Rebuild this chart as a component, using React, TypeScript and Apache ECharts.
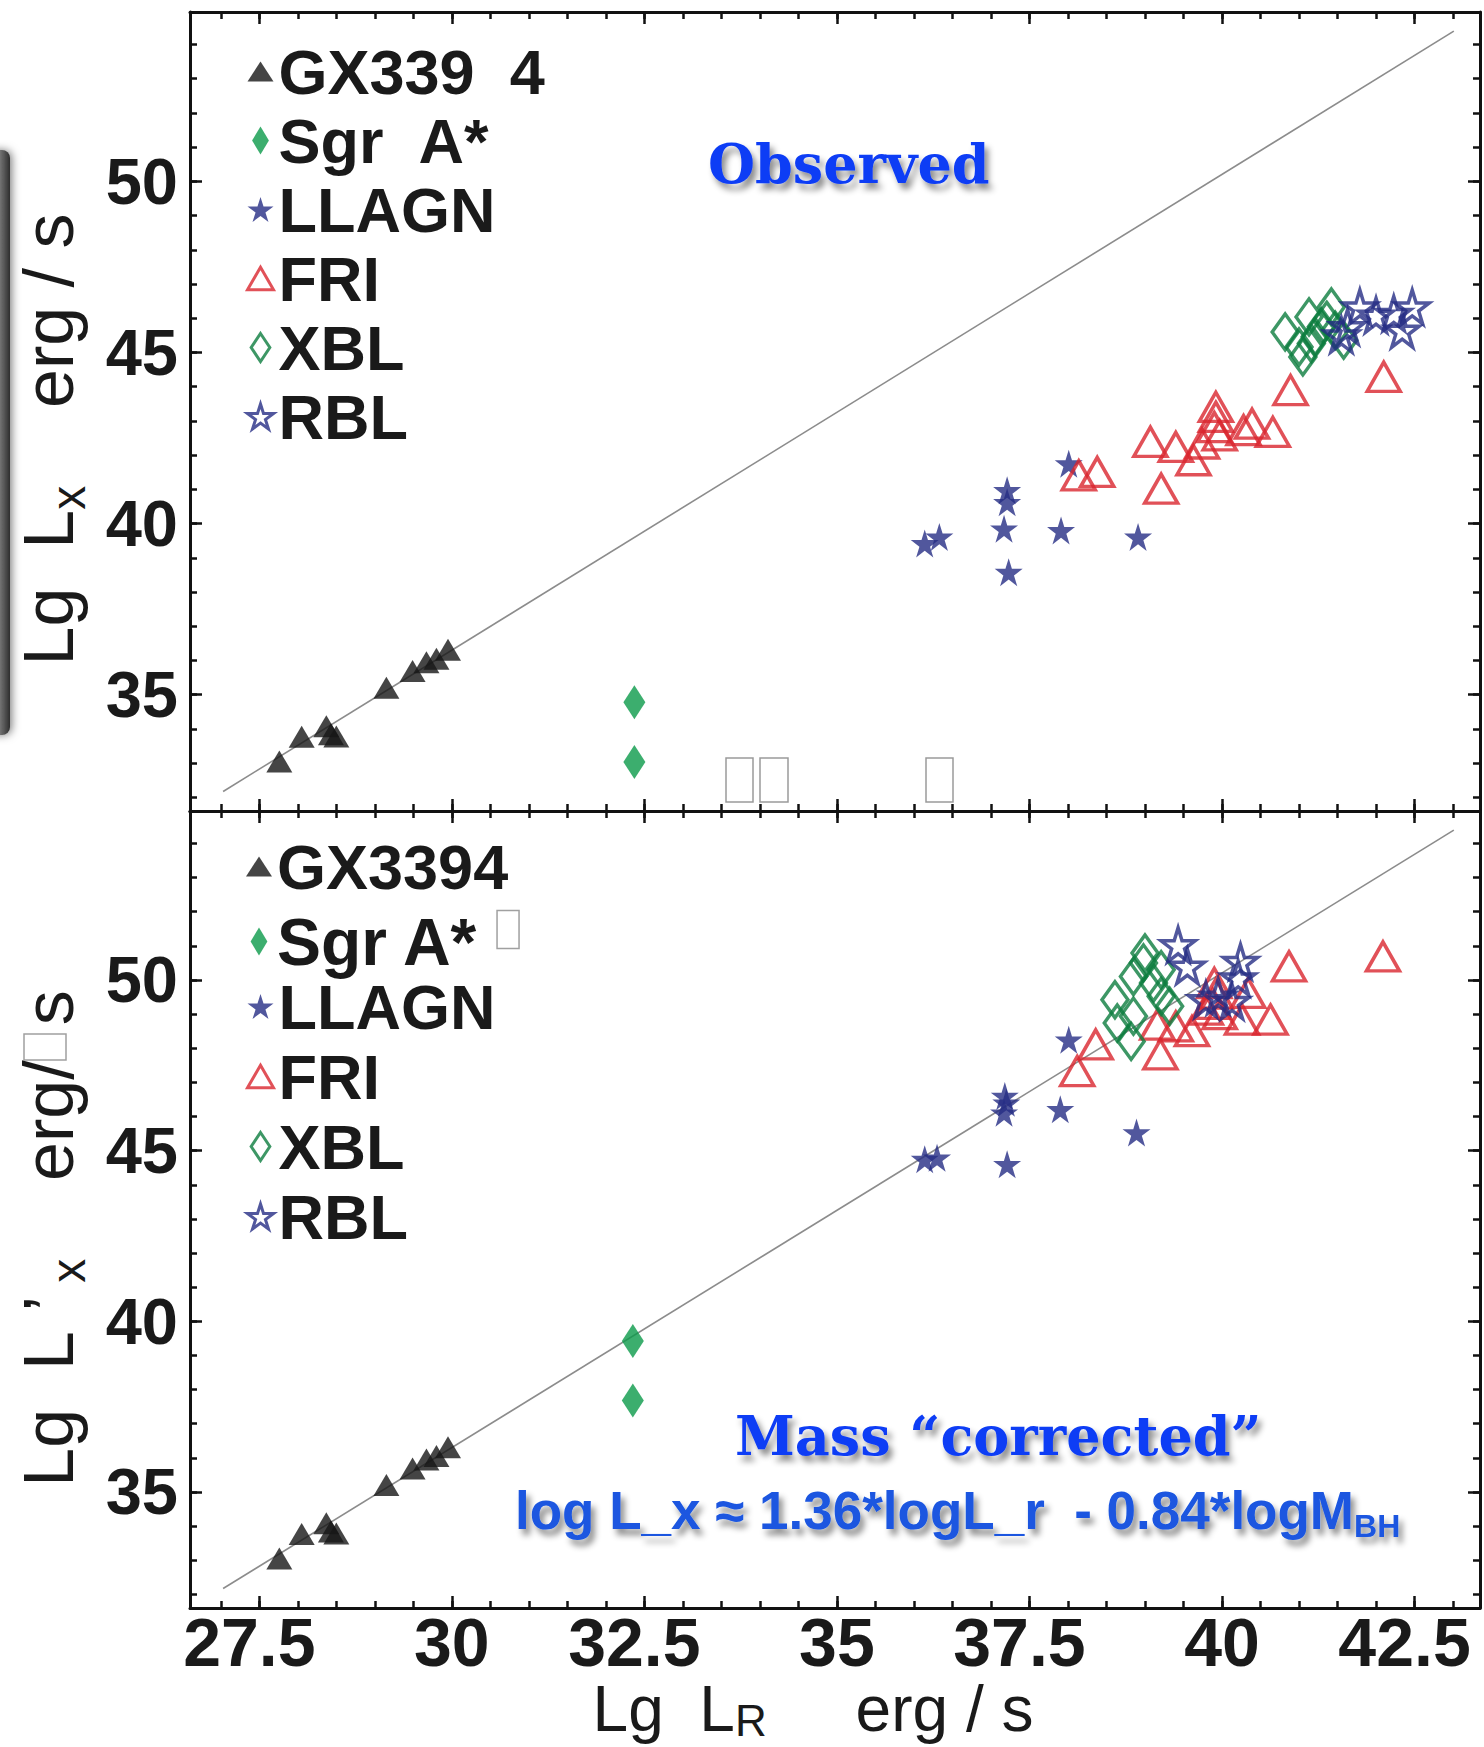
import React, { useEffect, useRef } from "react";
import * as echarts from "echarts";

const FONT = "'Liberation Sans', Arial, Helvetica, sans-serif";
const SERIF = "'DejaVu Serif', 'Liberation Serif', serif";

// ---- axis ranges & ticks ----
const X_MIN = 26.6;
const X_MAX = 43.35;
const Y_MIN = 31.6;
const Y_MAX = 54.95;

const xMajorTicks = [27.5, 30, 32.5, 35, 37.5, 40, 42.5];
const xMinorTicks = [27, 27.5, 28, 28.5, 29, 29.5, 30, 30.5, 31, 31.5, 32, 32.5, 33, 33.5, 34, 34.5, 35, 35.5, 36, 36.5, 37, 37.5, 38, 38.5, 39, 39.5, 40, 40.5, 41, 41.5, 42, 42.5, 43];
const yMajorTicks = [35, 40, 45, 50];
const yMinorTicks = [32, 33, 34, 35, 36, 37, 38, 39, 40, 41, 42, 43, 44, 45, 46, 47, 48, 49, 50, 51, 52, 53, 54];

// ---- reference relation line ----
const relationX = [27.03, 43.01];
const relationY = [32.17, 54.39];

// ---- legend names ----
const namesTop = ["GX339\u00a0\u00a04", "Sgr\u00a0\u00a0A*", "LLAGN", "FRI", "XBL", "RBL"];
const namesBottom = ["GX3394", "Sgr A*", "LLAGN", "FRI", "XBL", "RBL"];

// ---- Observed panel ----
const gxObsX = [27.76, 28.05, 28.37, 28.43, 28.5, 29.15, 29.49, 29.67, 29.8, 29.95];
const gxObsY = [33.05, 33.77, 34.08, 33.84, 33.78, 35.2, 35.69, 35.95, 36.05, 36.31];
const sgrObsX = [32.37, 32.37];
const sgrObsY = [34.78, 33.03];
const llagnObsX = [36.14, 36.33, 37.21, 37.21, 37.17, 37.23, 37.91, 38.91, 38.01];
const llagnObsY = [39.42, 39.61, 40.97, 40.62, 39.85, 38.58, 39.8, 39.61, 41.75];
const friObsX = [38.14, 38.38, 39.21, 39.07, 39.4, 39.63, 39.74, 39.92, 39.92, 39.9, 39.97, 40.28, 40.39, 40.66, 40.89, 42.1];
const friObsY = [41.41, 41.51, 41.02, 42.39, 42.24, 41.85, 42.34, 43.41, 43.12, 42.82, 42.58, 42.73, 42.92, 42.68, 43.9, 44.29];
const xblObsX = [40.82, 41.05, 41.13, 41.21, 41.29, 41.42, 41.47, 41.58, 41.0, 41.16, 41.36];
const xblObsY = [45.6, 44.87, 46.04, 45.46, 45.75, 46.33, 45.65, 45.36, 45.16, 45.26, 45.94];
const rblObsX = [41.63, 41.79, 42.0, 42.23, 42.47, 42.34, 41.55];
const rblObsY = [45.75, 46.33, 46.09, 46.14, 46.33, 45.65, 45.51];

// ---- Mass corrected panel ----
const gxCorX = [27.76, 28.05, 28.37, 28.43, 28.5, 29.15, 29.49, 29.67, 29.8, 29.95];
const gxCorY = [33.05, 33.77, 34.08, 33.84, 33.78, 35.2, 35.69, 35.95, 36.05, 36.31];
const sgrCorX = [32.35, 32.35];
const sgrCorY = [39.42, 37.68];
const llagnCorX = [36.14, 36.3, 37.18, 37.17, 37.21, 37.9, 38.89, 38.01, 37.2];
const llagnCorY = [44.75, 44.79, 46.6, 46.11, 44.6, 46.21, 45.53, 48.25, 46.4];
const friCorX = [38.12, 38.36, 39.16, 39.2, 39.4, 39.61, 39.79, 39.9, 39.92, 39.88, 39.97, 40.26, 40.34, 40.63, 40.87, 42.09];
const friCorY = [47.33, 48.11, 48.69, 47.82, 48.64, 48.5, 49.13, 49.91, 49.6, 49.3, 49.0, 48.84, 49.62, 48.84, 50.4, 50.69];
const xblCorX = [38.61, 38.64, 38.85, 38.82, 38.85, 38.98, 39.0, 39.11, 39.21, 39.21, 39.32];
const xblCorY = [49.42, 48.74, 48.94, 48.2, 50.1, 50.5, 50.79, 49.91, 50.3, 49.52, 49.23];
const rblCorX = [39.43, 39.55, 40.24, 40.21, 39.79, 39.95, 40.13];
const rblCorY = [51.03, 50.4, 50.54, 50.06, 49.42, 49.52, 49.37];

// ---- styles ----
const C_BLACK = "#161616";
const C_SGR = "#0b9a4a";
const C_NAVY = "#262d84";
const C_RED = "#d9262e";
const C_XBL = "#0d7d3e";
const C_TEXT = "#1a1a1a";
const STAR = "path://M50,0L61.2,35.5L98.5,35.5L68.4,57.5L79.8,93L50,71L20.2,93L31.6,57.5L1.5,35.5L38.8,35.5Z";
const TRI_ICON = "path://M0,20L13,0L26,20Z";
const TRI_OPEN_ICON = "path://M0,26L15,0L30,26Z";
const DIA_ICON = "path://M9,0L18,15L9,30L0,15Z";
const DIA_OPEN_ICON = "path://M12,0L24,18L12,36L0,18Z";
const CLEAR = "rgba(0,0,0,0)";

const zip = (xs: number[], ys: number[]) => xs.map((x, i) => [x, ys[i]]);

function panelSeries(ai: number, names: string[], d: any) {
  const ax = { xAxisIndex: ai, yAxisIndex: ai };
  return [
    {
      type: "line", ...ax, data: zip(relationX, relationY), symbol: "none", silent: true,
      lineStyle: { color: "#8c8c8c", width: 1.6 }, z: 1,
    },
    { name: names[0], type: "scatter", ...ax, symbol: "triangle", symbolSize: [26, 22],
      itemStyle: { color: C_BLACK }, data: zip(d.gxX, d.gxY), z: 3 },
    { name: names[1], type: "scatter", ...ax, symbol: "diamond", symbolSize: [22, 34],
      itemStyle: { color: C_SGR }, data: zip(d.sgrX, d.sgrY), z: 3 },
    { name: names[2], type: "scatter", ...ax, symbol: STAR, symbolSize: 28,
      itemStyle: { color: C_NAVY }, data: zip(d.llX, d.llY), z: 3 },
    { name: names[3], type: "scatter", ...ax, symbol: "triangle", symbolSize: [33, 29],
      itemStyle: { color: CLEAR, borderColor: C_RED, borderWidth: 3.5 }, data: zip(d.frX, d.frY), z: 3 },
    { name: names[4], type: "scatter", ...ax, symbol: "diamond", symbolSize: [26, 36],
      itemStyle: { color: CLEAR, borderColor: C_XBL, borderWidth: 3.5 }, data: zip(d.xbX, d.xbY), z: 4 },
    { name: names[5], type: "scatter", ...ax, symbol: STAR, symbolSize: 34,
      itemStyle: { color: CLEAR, borderColor: C_NAVY, borderWidth: 3.5 }, data: zip(d.rbX, d.rbY), z: 4 },
  ];
}

const AXLINE = { show: true, onZero: false, lineStyle: { color: "#111", width: 3 } };
const NOLINE = { show: false, onZero: false };
const tick = (vals: number[], len: number) => ({
  show: true, inside: true, length: len, customValues: vals,
  lineStyle: { color: "#111", width: 2.5 },
});
const NOLABEL = { show: false };

const NAME_FS = 70;
const nameRich = {
  t: { fontSize: NAME_FS, fontFamily: FONT, color: C_TEXT, verticalAlign: "top", lineHeight: NAME_FS },
  sub: { fontSize: 48, fontFamily: FONT, color: C_TEXT, verticalAlign: "top", lineHeight: 48, padding: [30, 0, 0, 0] },
};
const X_NAME_FS = 64;
const xNameRich = {
  t: { fontSize: X_NAME_FS, fontFamily: FONT, color: C_TEXT, verticalAlign: "top", lineHeight: X_NAME_FS },
  sub: { fontSize: 44, fontFamily: FONT, color: C_TEXT, verticalAlign: "top", lineHeight: 44, padding: [22, 0, 0, 0] },
};

const xLabelRich = {
  i: { fontSize: 68, fontFamily: FONT, fontWeight: "bold", color: C_TEXT },
  h: { fontSize: 68, fontFamily: FONT, fontWeight: "bold", color: C_TEXT, padding: [0, 20, 0, 0] },
};

function xAxes(gridIndex: number, withLabels: boolean) {
  const base = { type: "value", gridIndex, min: X_MIN, max: X_MAX, splitLine: { show: false } };
  const main: any = {
    ...base, position: "bottom", axisLine: AXLINE, axisTick: tick(xMajorTicks, 12),
    axisLabel: withLabels
      ? {
          show: true, customValues: xMajorTicks, fontSize: 68, fontFamily: FONT, fontWeight: "bold", color: C_TEXT, margin: 0,
          formatter: (v: number) => (Number.isInteger(v) ? `{i|${v}}` : `{h|${v}}`),
          rich: xLabelRich,
        }
      : NOLABEL,
  };
  if (withLabels) {
    main.name = "{t|Lg\u00a0\u00a0L}{sub|R}{t|\u00a0\u00a0\u00a0\u00a0\u00a0erg / s}";
    main.nameLocation = "middle";
    main.nameGap = 66;
    main.nameTextStyle = { fontSize: X_NAME_FS, fontFamily: FONT, color: C_TEXT, padding: [0, 44, 0, 0], rich: xNameRich };
  }
  return [
    main,
    { ...base, position: "bottom", axisLine: NOLINE, axisTick: tick(xMinorTicks, 7), axisLabel: NOLABEL },
    { ...base, position: "top", axisLine: AXLINE, axisTick: tick(xMajorTicks, 12), axisLabel: NOLABEL },
    { ...base, position: "top", axisLine: NOLINE, axisTick: tick(xMinorTicks, 7), axisLabel: NOLABEL },
  ];
}

function yAxes(gridIndex: number, name: string, padEnd: number) {
  const base = { type: "value", gridIndex, min: Y_MIN, max: Y_MAX, splitLine: { show: false } };
  return [
    {
      ...base, position: "left", axisLine: AXLINE, axisTick: tick(yMajorTicks, 12),
      axisLabel: { show: true, customValues: yMajorTicks, fontSize: 65, fontFamily: FONT, fontWeight: "bold", color: C_TEXT, margin: 12 },
      name, nameLocation: "middle", nameRotate: 90, nameGap: 106,
      nameTextStyle: { fontSize: NAME_FS, fontFamily: FONT, color: C_TEXT, padding: [0, padEnd, 0, 0], rich: nameRich },
    },
    { ...base, position: "left", axisLine: NOLINE, axisTick: tick(yMinorTicks, 7), axisLabel: NOLABEL },
    { ...base, position: "right", axisLine: AXLINE, axisTick: tick(yMajorTicks, 12), axisLabel: NOLABEL },
    { ...base, position: "right", axisLine: NOLINE, axisTick: tick(yMinorTicks, 7), axisLabel: NOLABEL },
  ];
}

function legendItem(name: string) {
  const all = [...namesTop, ...namesBottom];
  const k = all.indexOf(name) % 6;
  const defs = [
    { icon: TRI_ICON, itemStyle: { color: C_BLACK, borderWidth: 0 } },
    { icon: DIA_ICON, itemStyle: { color: C_SGR, borderWidth: 0 } },
    { icon: STAR, itemStyle: { color: C_NAVY, borderWidth: 0 } },
    { icon: TRI_OPEN_ICON, itemStyle: { color: CLEAR, borderColor: C_RED, borderWidth: 3 } },
    { icon: DIA_OPEN_ICON, itemStyle: { color: CLEAR, borderColor: C_XBL, borderWidth: 3 } },
    { icon: STAR, itemStyle: { color: CLEAR, borderColor: C_NAVY, borderWidth: 3 } },
  ];
  return { name, ...defs[k] };
}

const legendText = { fontSize: 63, fontWeight: "bold", fontFamily: FONT, color: C_TEXT, lineHeight: 62 };
const legendBase = {
  orient: "vertical", left: 246, padding: 0, itemWidth: 26, itemHeight: 28,
  selectedMode: false, symbolKeepAspect: true, textStyle: legendText,
};

const shadowText = {
  textShadowColor: "rgba(0,0,0,0.45)", textShadowBlur: 6, textShadowOffsetX: 4, textShadowOffsetY: 6,
};

export default function App() {
  const ref = useRef<HTMLDivElement>(null);
  useEffect(() => {
    document.body.style.margin = "0";
    if (!ref.current) return;
    const chart = echarts.init(ref.current, null, { renderer: "svg" });
    const obs = { gxX: gxObsX, gxY: gxObsY, sgrX: sgrObsX, sgrY: sgrObsY, llX: llagnObsX, llY: llagnObsY,
      frX: friObsX, frY: friObsY, xbX: xblObsX, xbY: xblObsY, rbX: rblObsX, rbY: rblObsY };
    const cor = { gxX: gxCorX, gxY: gxCorY, sgrX: sgrCorX, sgrY: sgrCorY, llX: llagnCorX, llY: llagnCorY,
      frX: friCorX, frY: friCorY, xbX: xblCorX, xbY: xblCorY, rbX: rblCorX, rbY: rblCorY };

    const option: any = {
      animation: false,
      backgroundColor: "#ffffff",
      grid: [
        { left: 190, top: 12, width: 1290, height: 799, containLabel: false, outerBoundsMode: "none" },
        { left: 190, top: 811, width: 1290, height: 797, containLabel: false, outerBoundsMode: "none" },
      ],
      xAxis: [...xAxes(0, false), ...xAxes(1, true)],
      yAxis: [
        ...yAxes(0, "{t|Lg\u00a0\u00a0L}{sub|x}{t|\u00a0\u00a0\u00a0\u00a0erg / s}", 56),
        ...yAxes(1, "{t|Lg\u00a0\u00a0L\u00a0\u2019}{sub|\u00a0x}{t|\u00a0\u00a0\u00a0\u00a0erg/\u2002s}", 58),
      ],
      legend: [
        { ...legendBase, top: 40, itemGap: 6, data: namesTop.map(legendItem) },
        {
          ...legendBase, top: 835, itemGap: 0, data: namesBottom.slice(0, 2).map(legendItem),
          formatter: (n: string) => (n === "Sgr A*" ? "{big|Sgr A*\u00a0}{box|\u00a0}" : n),
          textStyle: {
            ...legendText,
            rich: {
              big: { fontSize: 66, fontWeight: "bold", fontFamily: FONT, color: C_TEXT, lineHeight: 54 },
              box: { width: 22, height: 38, borderColor: "#a0a0a0", borderWidth: 1.5, verticalAlign: "top" },
            },
          },
        },
        { ...legendBase, top: 975, itemGap: 7, data: namesBottom.slice(2).map(legendItem) },
      ],
      series: [...panelSeries(0, namesTop, obs), ...panelSeries(4, namesBottom, cor)],
      graphic: [
        {
          type: "rect", z: -1,
          shape: { x: -24, y: 150, width: 34, height: 585, r: 8 },
          style: {
            fill: new echarts.graphic.LinearGradient(0, 0, 1, 0, [
              { offset: 0, color: "#e6e6e6" }, { offset: 0.6, color: "#8c8c8c" }, { offset: 1, color: "#2e2e2e" },
            ]),
            shadowBlur: 8, shadowColor: "rgba(0,0,0,0.5)", shadowOffsetX: 2,
          },
        },
        { type: "rect", shape: { x: 726, y: 758, width: 27, height: 44 }, style: { fill: "none", stroke: "#9a9a9a", lineWidth: 1.5 } },
        { type: "rect", shape: { x: 760, y: 758, width: 28, height: 44 }, style: { fill: "none", stroke: "#9a9a9a", lineWidth: 1.5 } },
        { type: "rect", shape: { x: 926, y: 758, width: 27, height: 44 }, style: { fill: "none", stroke: "#9a9a9a", lineWidth: 1.5 } },
        { type: "rect", shape: { x: 24, y: 1034, width: 42, height: 26 }, style: { fill: "none", stroke: "#a0a0a0", lineWidth: 1.5 } },
        {
          type: "text", x: 708, y: 164, z: 10,
          style: { text: "Observed", fontFamily: SERIF, fontWeight: "bold", fontSize: 54, fill: "#0c3cf5", verticalAlign: "middle", ...shadowText },
        },
        {
          type: "text", x: 735, y: 1436, z: 10,
          style: { text: "Mass \u201ccorrected\u201d", fontFamily: SERIF, fontWeight: "bold", fontSize: 54, fill: "#0c3cf5", verticalAlign: "middle", ...shadowText },
        },
        {
          type: "text", x: 515, y: 1512, z: 10,
          style: {
            text: "{a|log L_x \u2248 1.36*logL_r\u00a0\u00a0- 0.84*logM}{b|BH}",
            verticalAlign: "middle",
            rich: {
              a: { fontSize: 53, fontWeight: "bold", fontFamily: FONT, fill: "#1a56e0", verticalAlign: "top", lineHeight: 56, ...shadowText },
              b: { fontSize: 32, fontWeight: "bold", fontFamily: FONT, fill: "#1a56e0", verticalAlign: "top", lineHeight: 34, padding: [26, 0, 0, 0], ...shadowText },
            },
          },
        },
      ],
    };
    chart.setOption(option);
    return () => chart.dispose();
  }, []);
  return <div ref={ref} style={{ width: 1484, height: 1747 }} />;
}
